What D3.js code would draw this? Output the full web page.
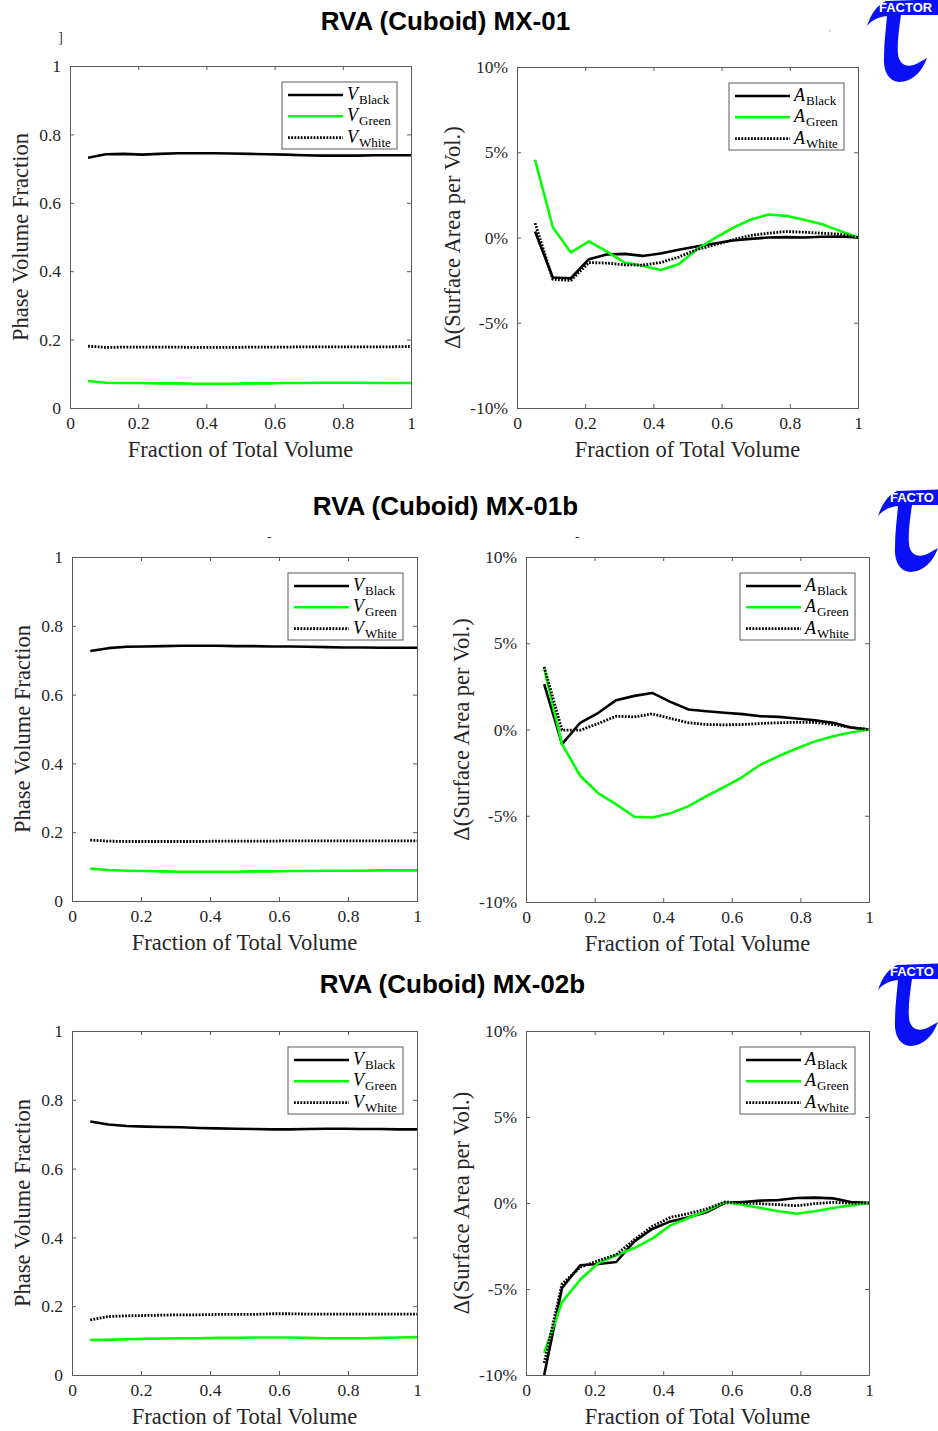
<!DOCTYPE html>
<html><head><meta charset="utf-8">
<script src="https://cdn.jsdelivr.net/npm/d3@7"></script>
<style>body{margin:0;background:#fff}</style>
</head><body>
<svg id="c" width="938" height="1431" xmlns="http://www.w3.org/2000/svg"></svg>
<script>
// ---------- DATA ----------
const xFrac = [0.053,0.105,0.158,0.211,0.263,0.316,0.368,0.421,0.474,0.526,0.579,0.632,0.684,0.737,0.789,0.842,0.895,0.947,1.0];

const titles = ["RVA (Cuboid) MX-01","RVA (Cuboid) MX-01b","RVA (Cuboid) MX-02b"];
const logoTexts = ["FACTOR","FACTO","FACTO"];
const xTicks = [0,0.2,0.4,0.6,0.8,1];
const vTicks = [0,0.2,0.4,0.6,0.8,1];
const aTicks = [-10,-5,0,5,10];
const vNames = ["Black","Green","White"];

// MX-01
const vBlack1 = [0.732,0.742,0.743,0.741,0.743,0.745,0.745,0.745,0.744,0.743,0.742,0.741,0.739,0.738,0.738,0.738,0.739,0.739,0.739];
const vGreen1 = [0.079,0.074,0.073,0.073,0.072,0.072,0.071,0.071,0.071,0.072,0.072,0.073,0.073,0.074,0.074,0.074,0.073,0.073,0.073];
const vWhite1 = [0.181,0.177,0.178,0.178,0.178,0.178,0.177,0.177,0.177,0.178,0.178,0.178,0.179,0.179,0.179,0.179,0.179,0.179,0.180];
const aBlack1 = [0.35,-2.35,-2.39,-1.27,-1.0,-0.96,-1.08,-0.94,-0.72,-0.53,-0.35,-0.18,-0.08,0.0,0.02,0.0,0.04,0.06,0];
const aGreen1 = [4.56,0.6,-0.88,-0.23,-0.82,-1.47,-1.66,-1.9,-1.57,-0.72,-0.05,0.55,1.04,1.35,1.27,1.04,0.78,0.39,0];
const aWhite1 = [0.84,-2.45,-2.52,-1.47,-1.5,-1.6,-1.62,-1.47,-1.15,-0.72,-0.43,-0.14,0.12,0.25,0.35,0.31,0.25,0.2,0];

// MX-01b
const vBlack2 = [0.727,0.735,0.739,0.740,0.741,0.742,0.742,0.742,0.741,0.741,0.740,0.740,0.739,0.738,0.737,0.737,0.736,0.736,0.736];
const vGreen2 = [0.094,0.090,0.088,0.087,0.086,0.085,0.085,0.085,0.085,0.086,0.086,0.087,0.087,0.088,0.088,0.088,0.089,0.089,0.089];
const vWhite2 = [0.177,0.174,0.173,0.173,0.173,0.173,0.173,0.174,0.174,0.174,0.174,0.175,0.175,0.175,0.175,0.175,0.175,0.175,0.175];
const aBlack2 = [2.63,-0.85,0.39,0.97,1.7,1.95,2.12,1.6,1.16,1.06,0.97,0.89,0.77,0.73,0.64,0.54,0.39,0.12,0];
const aGreen2 = [3.53,-0.85,-2.68,-3.7,-4.34,-5.06,-5.1,-4.86,-4.44,-3.86,-3.32,-2.74,-2.03,-1.54,-1.1,-0.69,-0.39,-0.17,0];
const aWhite2 = [3.63,-0.04,-0.04,0.35,0.77,0.73,0.91,0.64,0.39,0.29,0.27,0.29,0.35,0.39,0.42,0.41,0.29,0.12,0];

// MX-02b
const vBlack3 = [0.737,0.728,0.724,0.722,0.721,0.720,0.718,0.717,0.716,0.715,0.714,0.714,0.715,0.716,0.716,0.715,0.715,0.714,0.714];
const vGreen3 = [0.102,0.102,0.104,0.105,0.106,0.107,0.107,0.108,0.108,0.109,0.109,0.109,0.108,0.107,0.107,0.107,0.108,0.109,0.110];
const vWhite3 = [0.160,0.170,0.172,0.173,0.174,0.175,0.175,0.176,0.176,0.176,0.178,0.178,0.177,0.177,0.177,0.177,0.177,0.177,0.177];
const aBlack3 = [-10.0,-4.94,-3.62,-3.55,-3.43,-2.23,-1.51,-1.07,-0.83,-0.54,0,0.06,0.14,0.17,0.29,0.31,0.27,0.06,0];
const aGreen3 = [-8.72,-5.76,-4.46,-3.49,-3.04,-2.62,-2.07,-1.3,-0.87,-0.45,0.04,-0.1,-0.29,-0.48,-0.62,-0.48,-0.29,-0.14,0];
const aWhite3 = [-9.3,-4.71,-3.74,-3.35,-3.0,-2.13,-1.36,-0.83,-0.62,-0.35,0.06,0,-0.04,-0.1,-0.16,-0.04,0.04,0,0];

// ---------- LAYOUT ----------
const svg = d3.select("#c");
const SERIF = "'Liberation Serif','DejaVu Serif',serif";
const TXT = "#262626";
const AX = "#5a5a5a";
const lineStyles = [
  {color:"#000000", dash:null, w:2.6},
  {color:"#00ff00", dash:null, w:2.6},
  {color:"#000000", dash:"1.8,1.4", w:2.8}
];

const panels = [
  {kind:"v", x0:70,  x1:411, y0:66,   y1:408,  s:[vBlack1,vGreen1,vWhite1]},
  {kind:"a", x0:517, x1:858, y0:67,   y1:408,  s:[aBlack1,aGreen1,aWhite1]},
  {kind:"v", x0:72,  x1:417, y0:557,  y1:901,  s:[vBlack2,vGreen2,vWhite2]},
  {kind:"a", x0:526, x1:869, y0:557,  y1:902,  s:[aBlack2,aGreen2,aWhite2]},
  {kind:"v", x0:72,  x1:417, y0:1031, y1:1375, s:[vBlack3,vGreen3,vWhite3]},
  {kind:"a", x0:526, x1:869, y0:1031, y1:1375, s:[aBlack3,aGreen3,aWhite3]}
];

const titlePos = [{x:445.5,y:30},{x:445.5,y:515},{x:452.5,y:993}];
titles.forEach((t,i)=>{
  svg.append("text").attr("x",titlePos[i].x).attr("y",titlePos[i].y)
    .attr("text-anchor","middle").attr("font-family","'Liberation Sans',Arial,sans-serif")
    .attr("font-weight","bold").attr("font-size",26).attr("fill","#000").text(t);
});

svg.append("defs");
panels.forEach((p,pi)=>{
  const g = svg.append("g");
  const x = d3.scaleLinear().domain([0,1]).range([p.x0,p.x1]);
  const y = p.kind==="v" ? d3.scaleLinear().domain([0,1]).range([p.y1,p.y0])
                         : d3.scaleLinear().domain([-10,10]).range([p.y1,p.y0]);
  const yT = p.kind==="v" ? vTicks : aTicks;
  const fmtY = p.kind==="v" ? (d=>String(d)) : (d=>d+"%");
  const clipId = "clip"+pi;
  svg.select("defs").append("clipPath").attr("id",clipId)
    .append("rect").attr("x",p.x0).attr("y",p.y0-2).attr("width",p.x1-p.x0).attr("height",p.y1-p.y0+3);

  const axB = d3.axisBottom(x).tickValues(xTicks).tickSize(-4).tickPadding(9).tickFormat(d=>String(d));
  const axT = d3.axisTop(x).tickValues(xTicks).tickSize(-4).tickFormat("");
  const axL = d3.axisLeft(y).tickValues(yT).tickSize(-4).tickPadding(9).tickFormat(fmtY);
  const axR = d3.axisRight(y).tickValues(yT).tickSize(-4).tickFormat("");
  const gb = g.append("g").attr("transform",`translate(0,${p.y1})`).call(axB);
  const gt = g.append("g").attr("transform",`translate(0,${p.y0})`).call(axT);
  const gl = g.append("g").attr("transform",`translate(${p.x0},0)`).call(axL);
  const gr = g.append("g").attr("transform",`translate(${p.x1},0)`).call(axR);
  [gb,gt,gl,gr].forEach(a=>{
    a.selectAll("path.domain").attr("stroke",AX).attr("stroke-width",1);
    a.selectAll(".tick line").attr("stroke",AX).attr("stroke-width",1);
    a.selectAll("text").attr("font-family",SERIF).attr("font-size",17.5).attr("fill",TXT);
  });

  const lg = g.append("g").attr("clip-path",`url(#${clipId})`);
  p.s.forEach((arr,si)=>{
    const st = lineStyles[si];
    const line = d3.line().x((d,i)=>x(xFrac[i])).y(d=>y(d));
    lg.append("path").datum(arr).attr("d",line).attr("fill","none")
      .attr("stroke",st.color).attr("stroke-width",st.w)
      .attr("stroke-linejoin","round")
      .attr("stroke-dasharray",st.dash);
  });

  g.append("text").attr("x",(p.x0+p.x1)/2).attr("y",p.y1+49).attr("text-anchor","middle")
    .attr("font-family",SERIF).attr("font-size",22.5).attr("fill",TXT).text("Fraction of Total Volume");
  const yl = p.kind==="v" ? "Phase Volume Fraction" : "\u0394(Surface Area per Vol.)";
  const ylx = p.kind==="v" ? p.x0-42 : p.x0-57;
  g.append("text").attr("transform",`translate(${ylx},${(p.y0+p.y1)/2}) rotate(-90)`)
    .attr("text-anchor","middle").attr("font-family",SERIF).attr("font-size",22.5).attr("fill",TXT).text(yl);

  const bw=115, bh=67, bx=p.x1-14-bw, by=p.y0+16;
  const leg = g.append("g");
  leg.append("rect").attr("x",bx).attr("y",by).attr("width",bw).attr("height",bh)
    .attr("fill","#fff").attr("stroke",AX).attr("stroke-width",1);
  const sym = p.kind==="v" ? "V" : "A";
  vNames.forEach((nm,i)=>{
    const st = lineStyles[i];
    const yy = by+13+i*21.3;
    leg.append("line").attr("x1",bx+6).attr("x2",bx+61).attr("y1",yy).attr("y2",yy)
      .attr("stroke",st.color).attr("stroke-width",st.w).attr("stroke-dasharray",st.dash);
    const t = leg.append("text").attr("x",bx+65).attr("y",yy+5).attr("font-family",SERIF).attr("fill","#000");
    t.append("tspan").attr("font-style","italic").attr("font-size",18).text(sym);
    t.append("tspan").attr("font-size",13).attr("dy",4).attr("dx",1).text(nm);
  });
});

// stray marks from the source figure
svg.append("text").attr("x",58).attr("y",42).attr("font-family",SERIF).attr("font-size",15).attr("fill","#444").text("]");
svg.append("text").attr("x",267).attr("y",541).attr("font-family",SERIF).attr("font-size",14).attr("fill","#444").text("-");
svg.append("text").attr("x",575).attr("y",541).attr("font-family",SERIF).attr("font-size",14).attr("fill","#444").text("-");
svg.append("text").attr("x",829).attr("y",36).attr("font-family",SERIF).attr("font-size",9).attr("fill","#777").text("'");

// tau "FACTOR" logos
const logoPos = [{x:865,y:-1},{x:876,y:489},{x:876,y:963}];
const BLUE = "#0a10f5";
logoPos.forEach((lp,i)=>{
  const lg = svg.append("g").attr("transform",`translate(${lp.x},${lp.y})`);
  lg.append("path").attr("fill",BLUE)
    .attr("d","M2,27 C6,15 12,6 21,2 L80,0 L80,16 L36,16 C34,30 32,44 33,55 C34,66 43,70 53,64 L62,59 C57,73 47,83 34,83 C23,82 18,71 19,58 C19,43 21,30 22,17 C13,18 7,21 2,27 Z");
  lg.append("text").attr("x",14).attr("y",12.5).attr("font-family","'Liberation Sans',Arial,sans-serif")
    .attr("font-weight","bold").attr("font-size",13).attr("fill","#fff").text(logoTexts[i]);
});
</script>
</body></html>
